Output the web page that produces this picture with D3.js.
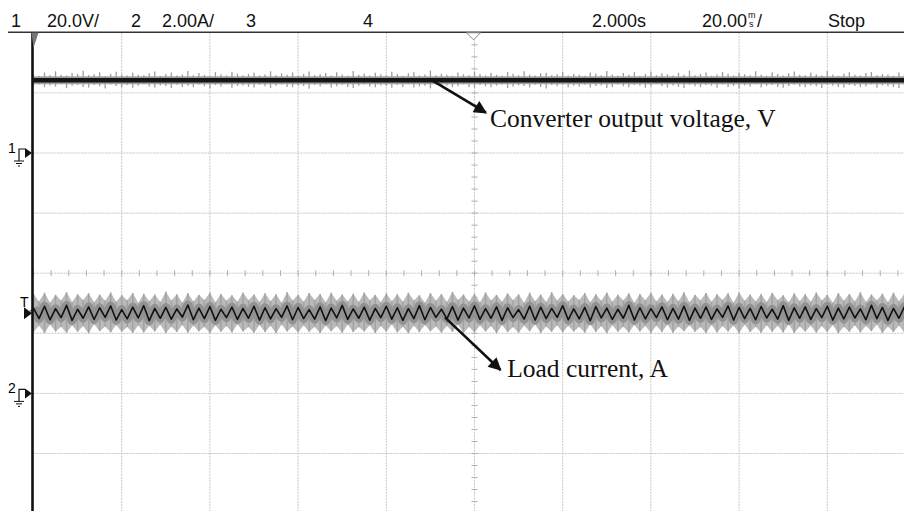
<!DOCTYPE html>
<html>
    <head>
        <meta charset="utf-8">
        <title>Scope capture</title>
        <style>
            body{
                margin: 0;
                background: white;
            }
            svg{
                display: block;
            }
            .hdr{
                font-family: 'Liberation Sans', Arial, sans-serif;
                font-size: 18px;
                fill: #111;
            }
            .note{
                font-family: 'Liberation Serif', 'Times New Roman', serif;
                font-size: 25.5px;
                fill: #111;
            }
        </style>
    </head>
    <body>
        <div id="vis-container"></div>
    </body>
    <script src="https://cdnjs.cloudflare.com/ajax/libs/d3/7.8.5/d3.min.js"></script>
    <script>

        // scope settings
        const voltsPerDiv = 20
        const ampsPerDiv = 2
        const msPerDiv = 20
        const sampleStepMs = 1.25

        // header labels
        const headerLabels = [
            {text: '1', x: 11},
            {text: '20.0V/', x: 47},
            {text: '2', x: 131},
            {text: '2.00A/', x: 162},
            {text: '3', x: 246},
            {text: '4', x: 363},
            {text: '2.000s', x: 592},
            {text: 'Stop', x: 828}
        ]

        // channel 1 : converter output voltage (V)
        const voltLevel = 24.2
        const voltHi = [
            26.1,25.7,26.8,25.9,27.2,26.0,25.8,26.6,26.3,27.4,25.9,26.2,26.9,25.6,26.4,27.0,26.1,25.8,26.7,26.0,
            25.9,26.5,27.1,25.7,26.3,26.8,25.8,26.1,27.3,25.9,26.6,26.0,25.7,26.9,26.2,25.8,27.0,26.4,25.9,26.3,
            26.7,25.8,26.1,27.2,25.9,26.5,26.0,26.8,25.7,26.3,27.1,25.9,26.2,26.6,25.8,26.9,26.1,25.7,27.3,26.0,
            26.4,25.8,26.7,26.2,25.9,27.0,26.3,25.7,26.5,26.9,25.8,26.1,27.4,25.9,26.4,26.0,25.7,26.8,26.2,25.9,
            27.1,26.3,25.8,26.6,26.0,25.7,26.9,26.4,25.9,27.2,26.1,25.8,26.5,26.7,25.9,26.2,27.0,25.8,26.3,26.0,
            25.7,26.8,26.4,25.9,27.3,26.1,25.8,26.6,26.0,26.9,25.7,26.3,27.1,25.9,26.5,26.2,25.8,26.7,26.0,27.4,
            25.9,26.3,26.8,25.7,26.1,27.0,26.4,25.8,26.6,26.2,25.9,27.2,26.0,25.7,26.9,26.3,25.8,26.5,27.1,26.0,
            25.9,26.7,26.2,25.8,27.3,26.1,25.7,26.4,26.9,26.0,25.8,26.6,27.0,25.9,26.3,26.1,25.7,26.8,26.4,25.9
        ]
        const voltLo = [
            22.3,22.8,21.9,22.5,22.1,22.9,21.6,22.4,22.7,22.0,21.8,22.6,22.2,21.5,22.8,22.3,22.0,22.6,21.7,22.4,
            22.9,22.1,21.8,22.5,22.3,21.6,22.7,22.0,22.4,21.9,22.8,22.2,21.5,22.6,22.1,22.9,21.7,22.3,22.5,22.0,
            21.8,22.7,22.2,21.6,22.4,22.8,22.0,21.9,22.5,22.3,21.4,22.6,22.1,22.9,21.8,22.2,22.7,22.0,21.6,22.4,
            22.8,22.1,21.9,22.5,22.3,21.7,22.6,22.0,22.9,21.8,22.2,22.4,21.5,22.7,22.1,22.5,21.9,22.3,22.8,22.0,
            21.7,22.6,22.2,21.9,22.4,22.8,21.6,22.1,22.5,22.3,21.8,22.7,22.0,21.5,22.6,22.2,22.9,21.9,22.4,22.1,
            22.7,21.8,22.3,22.5,21.6,22.0,22.8,22.2,21.9,22.6,22.4,21.7,22.1,22.9,22.3,21.8,22.5,22.0,21.6,22.7,
            22.2,21.9,22.6,22.4,21.7,22.8,22.0,22.3,21.5,22.5,22.1,22.9,21.8,22.4,22.6,22.0,21.7,22.3,22.8,22.1,
            21.9,22.5,22.2,21.6,22.7,22.4,22.0,21.8,22.6,22.3,21.9,22.1,22.8,21.7,22.5,22.2,22.0,21.6,22.4,22.7
        ]

        // channel 2 : load current (A)
        const currentCore = [
            2.84,2.49,2.90,2.45,2.82,2.52,2.93,2.43,2.80,2.50,2.88,2.46,2.85,2.53,2.91,2.44,2.79,2.48,2.87,2.51,
            2.92,2.42,2.83,2.50,2.86,2.47,2.81,2.54,2.94,2.45,2.84,2.49,2.89,2.43,2.80,2.52,2.87,2.46,2.83,2.50,
            2.90,2.44,2.85,2.48,2.82,2.53,2.91,2.45,2.86,2.49,2.79,2.47,2.88,2.42,2.84,2.51,2.93,2.46,2.81,2.50,
            2.87,2.44,2.83,2.52,2.90,2.47,2.85,2.43,2.82,2.49,2.92,2.45,2.86,2.53,2.80,2.48,2.89,2.44,2.84,2.51,
            2.91,2.46,2.82,2.50,2.88,2.43,2.85,2.52,2.79,2.47,2.90,2.44,2.87,2.49,2.83,2.53,2.92,2.45,2.81,2.48,
            2.86,2.42,2.89,2.51,2.84,2.46,2.80,2.50,2.93,2.44,2.85,2.48,2.82,2.52,2.88,2.45,2.83,2.47,2.90,2.43,
            2.84,2.50,2.87,2.46,2.81,2.53,2.91,2.44,2.86,2.49,2.83,2.45,2.89,2.51,2.80,2.47,2.92,2.43,2.85,2.50,
            2.88,2.46,2.82,2.52,2.90,2.44,2.84,2.48,2.87,2.51,2.81,2.45,2.93,2.49,2.86,2.43,2.83,2.50,2.89,2.47
        ]
        const currentHi = [
            3.31,3.06,3.35,3.02,3.28,3.09,3.37,3.04,3.30,3.11,3.33,3.03,3.29,3.08,3.36,3.05,3.27,3.10,3.34,3.01,
            3.32,3.07,3.29,3.04,3.38,3.09,3.30,3.02,3.34,3.06,3.28,3.11,3.35,3.03,3.31,3.08,3.27,3.05,3.36,3.10,
            3.29,3.04,3.33,3.07,3.30,3.02,3.37,3.09,3.28,3.05,3.34,3.11,3.31,3.03,3.35,3.08,3.29,3.06,3.32,3.04,
            3.36,3.10,3.28,3.03,3.33,3.07,3.30,3.05,3.35,3.09,3.27,3.02,3.34,3.08,3.31,3.04,3.38,3.11,3.29,3.06,
            3.32,3.03,3.36,3.09,3.28,3.05,3.33,3.10,3.30,3.02,3.35,3.07,3.29,3.04,3.37,3.08,3.31,3.06,3.27,3.11,
            3.34,3.03,3.30,3.08,3.36,3.05,3.28,3.09,3.33,3.02,3.31,3.10,3.35,3.06,3.29,3.04,3.32,3.07,3.37,3.03,
            3.28,3.09,3.34,3.05,3.30,3.11,3.33,3.02,3.36,3.08,3.29,3.06,3.31,3.04,3.35,3.10,3.27,3.03,3.33,3.07,
            3.30,3.05,3.36,3.09,3.28,3.02,3.34,3.08,3.31,3.06,3.37,3.04,3.29,3.10,3.32,3.03,3.35,3.07,3.30,3.05
        ]
        const currentLo = [
            2.04,2.26,2.01,2.29,2.06,2.22,2.02,2.27,2.05,2.24,2.00,2.30,2.07,2.23,2.03,2.28,2.05,2.21,2.01,2.27,
            2.03,2.25,2.06,2.29,2.00,2.23,2.04,2.28,2.02,2.26,2.07,2.22,2.01,2.27,2.05,2.24,2.03,2.30,2.06,2.21,
            2.02,2.28,2.04,2.25,2.00,2.29,2.06,2.23,2.03,2.27,2.05,2.22,2.01,2.26,2.07,2.24,2.02,2.29,2.04,2.21,
            2.06,2.27,2.01,2.24,2.05,2.30,2.03,2.22,2.00,2.26,2.04,2.28,2.07,2.23,2.02,2.25,2.05,2.29,2.01,2.22,
            2.03,2.27,2.06,2.24,2.00,2.28,2.04,2.21,2.02,2.26,2.07,2.29,2.01,2.23,2.05,2.27,2.03,2.25,2.06,2.22,
            2.02,2.30,2.04,2.24,2.00,2.27,2.05,2.22,2.03,2.28,2.06,2.25,2.01,2.26,2.04,2.29,2.02,2.23,2.07,2.27,
            2.05,2.21,2.01,2.28,2.03,2.24,2.06,2.26,2.00,2.29,2.04,2.22,2.02,2.27,2.05,2.25,2.03,2.30,2.01,2.23,
            2.06,2.26,2.02,2.24,2.04,2.28,2.00,2.22,2.05,2.27,2.03,2.25,2.07,2.29,2.01,2.23,2.04,2.26,2.02,2.28
        ]
        const triggerLevel = 2.67

        // annotations (time in ms, value in channel units)
        const notes = [
            {ch: 'volt', t0: -9.6, v0: 24.2, t1: 2.6, v1: 13.4, label: 'Converter output voltage, V', tx: 3.5, ty: 8.8},
            {ch: 'amp', t0: -6.7, v0: 2.53, t1: 5.9, v1: 0.78, label: 'Load current, A', tx: 7.4, ty: 0.56}
        ]

        const svgWidth = 904
        const svgHeight = 511

        const svg = d3.select('#vis-container')
            .append('svg')
            .attr('width', svgWidth)
            .attr('height', svgHeight)

        svg.append('rect')
            .attr('width', svgWidth)
            .attr('height', svgHeight)
            .attr('fill', 'white')

        const plotTop = 32.8
        const divW = 88.2
        const divH = 60.1
        const plotLeft = 33.5

        const x = d3.scaleLinear()
            .domain([-5 * msPerDiv, 5 * msPerDiv])
            .range([plotLeft, plotLeft + 10 * divW])

        const yDiv = d3.scaleLinear()
            .domain([4, -4])
            .range([plotTop, plotTop + 8 * divH])

        const yVolt = d3.scaleLinear()
            .domain([2 * voltsPerDiv, -6 * voltsPerDiv])
            .range([plotTop, plotTop + 8 * divH])

        const yAmp = d3.scaleLinear()
            .domain([6 * ampsPerDiv, -2 * ampsPerDiv])
            .range([plotTop, plotTop + 8 * divH])

        const times = voltHi.map((d, i) => -5 * msPerDiv + i * sampleStepMs)

        // grid
        const grid = svg.append('g')

        grid.selectAll('line.v')
            .data(d3.range(-80, 101, msPerDiv))
            .join('line')
            .attr('class', 'v')
            .attr('x1', d => x(d))
            .attr('x2', d => x(d))
            .attr('y1', plotTop)
            .attr('y2', svgHeight)
            .attr('stroke', '#c6c6c6')
            .attr('stroke-dasharray', '2,1')

        grid.selectAll('line.h')
            .data(d3.range(3, -5, -1))
            .join('line')
            .attr('class', 'h')
            .attr('x1', plotLeft)
            .attr('x2', svgWidth)
            .attr('y1', d => yDiv(d))
            .attr('y2', d => yDiv(d))
            .attr('stroke', '#c6c6c6')
            .attr('stroke-dasharray', '2,1')

        // centre minor ticks
        grid.selectAll('line.mx')
            .data(d3.range(-100, 101, msPerDiv / 5))
            .join('line')
            .attr('class', 'mx')
            .attr('x1', d => x(d))
            .attr('x2', d => x(d))
            .attr('y1', yDiv(0) - 3)
            .attr('y2', yDiv(0) + 3)
            .attr('stroke', '#b0b0b0')

        grid.selectAll('line.my')
            .data(d3.range(4, -4.01, -0.2))
            .join('line')
            .attr('class', 'my')
            .attr('x1', x(0) - 3)
            .attr('x2', x(0) + 3)
            .attr('y1', d => yDiv(d))
            .attr('y2', d => yDiv(d))
            .attr('stroke', '#b0b0b0')

        // channel 1 trace
        const volt = svg.append('g')

        const flatLine = d3.line()
            .x(d => x(d))
            .y(d => yVolt(voltLevel))

        volt.append('path')
            .attr('d', flatLine(times))
            .attr('fill', 'none')
            .attr('stroke', '#a4a4a4')
            .attr('stroke-width', 8)

        volt.selectAll('line')
            .data(times)
            .join('line')
            .attr('x1', d => x(d))
            .attr('x2', d => x(d))
            .attr('y1', (d, i) => yVolt(voltLo[i]))
            .attr('y2', (d, i) => yVolt(voltHi[i]))
            .attr('stroke', '#9c9c9c')
            .attr('stroke-width', 1.3)

        volt.append('path')
            .attr('d', flatLine(times))
            .attr('fill', 'none')
            .attr('stroke', '#151515')
            .attr('stroke-width', 4.5)

        // channel 2 trace
        const amp = svg.append('g')

        const band = d3.area()
            .x(d => x(d))
            .y0((d, i) => yAmp(currentLo[i]))
            .y1((d, i) => yAmp(currentHi[i]))

        amp.append('path')
            .attr('d', band(times))
            .attr('fill', '#bababa')

        amp.selectAll('line')
            .data(times)
            .join('line')
            .attr('x1', d => x(d))
            .attr('x2', d => x(d))
            .attr('y1', (d, i) => yAmp(currentLo[i]))
            .attr('y2', (d, i) => yAmp(currentHi[i]))
            .attr('stroke', '#a2a2a2')
            .attr('stroke-width', 1.5)

        const coreLine = d3.line()
            .x(d => x(d))
            .y((d, i) => yAmp(currentCore[i]))

        amp.append('path')
            .attr('d', coreLine(times))
            .attr('fill', 'none')
            .attr('stroke', '#929292')
            .attr('stroke-width', 9)
            .attr('stroke-linejoin', 'round')

        amp.append('path')
            .attr('d', coreLine(times))
            .attr('fill', 'none')
            .attr('stroke', '#111')
            .attr('stroke-width', 1.6)
            .attr('stroke-linejoin', 'round')

        // frame
        svg.append('line')
            .attr('x1', 8)
            .attr('x2', svgWidth)
            .attr('y1', plotTop - 0.5)
            .attr('y2', plotTop - 0.5)
            .attr('stroke', '#333')
            .attr('stroke-width', 1.5)

        svg.append('line')
            .attr('x1', plotLeft - 1)
            .attr('x2', plotLeft - 1)
            .attr('y1', plotTop)
            .attr('y2', svgHeight)
            .attr('stroke', '#111')
            .attr('stroke-width', 2.6)

        svg.append('path')
            .attr('d', `M${plotLeft - 2},${plotTop} L${plotLeft + 5},${plotTop} L${plotLeft},${plotTop + 15} Z`)
            .attr('fill', '#777')

        svg.append('path')
            .attr('d', `M${x(0) - 8},${plotTop} L${x(0) + 6},${plotTop} L${x(0) - 1},${plotTop + 7} Z`)
            .attr('fill', 'white')
            .attr('stroke', '#8a8a8a')

        // header
        svg.append('g')
            .selectAll('text')
            .data(headerLabels)
            .join('text')
            .attr('class', 'hdr')
            .attr('x', d => d.x)
            .attr('y', 27)
            .text(d => d.text)

        svg.append('text').attr('class', 'hdr').attr('x', 702).attr('y', 27).text('20.00')
        svg.append('text').attr('class', 'hdr').attr('x', 748).attr('y', 18).style('font-size', '9px').text('m')
        svg.append('text').attr('class', 'hdr').attr('x', 749).attr('y', 27).style('font-size', '9px').text('s')
        svg.append('text').attr('class', 'hdr').attr('x', 757).attr('y', 27).text('/')

        // channel markers
        const markers = svg.append('g')

        function groundMarker(label, yPos){
            const g = markers.append('g').attr('transform', `translate(0,${yPos})`)
            g.append('text')
                .attr('x', 8)
                .attr('y', 0)
                .attr('font-family', 'Liberation Sans, Arial, sans-serif')
                .attr('font-size', 14)
                .text(label)
            g.append('path')
                .attr('d', 'M19,8 L19,-4 L25,-4')
                .attr('fill', 'none')
                .attr('stroke', '#111')
                .attr('stroke-width', 1.2)
            g.append('path')
                .attr('d', 'M25,-5 L32,0 L25,5 Z')
                .attr('fill', '#111')
            g.append('path')
                .attr('d', 'M14,8 L24,8 M16,10.5 L22,10.5 M18,13 L20,13')
                .attr('stroke', '#111')
                .attr('stroke-width', 1)
        }
        groundMarker('1', yVolt(0))
        groundMarker('2', yAmp(0))

        const trig = markers.append('g').attr('transform', `translate(0,${yAmp(triggerLevel)})`)
        trig.append('text')
            .attr('x', 20)
            .attr('y', -6)
            .attr('font-family', 'Liberation Sans, Arial, sans-serif')
            .attr('font-size', 14)
            .text('T')
        trig.append('path')
            .attr('d', 'M24,-6 L32,0 L24,6 Z')
            .attr('fill', '#111')

        // annotations
        svg.append('defs')
            .append('marker')
            .attr('id', 'head')
            .attr('viewBox', '0 0 10 10')
            .attr('refX', 9)
            .attr('refY', 5)
            .attr('markerWidth', 6)
            .attr('markerHeight', 5)
            .attr('markerUnits', 'strokeWidth')
            .attr('orient', 'auto')
            .append('path')
            .attr('d', 'M0,0 L10,5 L0,10 Z')
            .attr('fill', '#111')

        const ann = svg.append('g')

        notes.forEach(n => {
            const yy = n.ch == 'volt' ? yVolt : yAmp
            ann.append('line')
                .attr('x1', x(n.t0))
                .attr('y1', yy(n.v0))
                .attr('x2', x(n.t1))
                .attr('y2', yy(n.v1))
                .attr('stroke', '#111')
                .attr('stroke-width', 2.6)
                .attr('marker-end', 'url(#head)')
            ann.append('text')
                .attr('class', 'note')
                .attr('x', x(n.tx))
                .attr('y', yy(n.ty))
                .text(n.label)
        })

    </script>
</html>
